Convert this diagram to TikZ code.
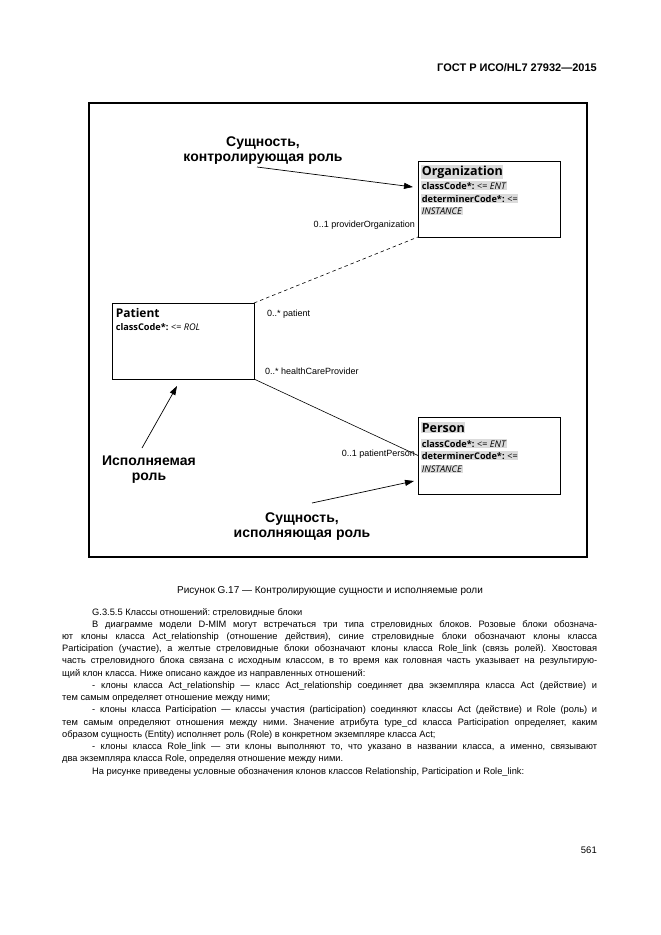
\documentclass[tikz,border=0pt]{standalone}
\usepackage{fontspec}
\setmainfont{Liberation Sans}
\newfontfamily\boxfont{Open Sans}
\usetikzlibrary{arrows.meta}
\frenchspacing
\begin{document}
\begin{tikzpicture}[x=1pt,y=-1pt,
  bodyline/.style={anchor=base west, inner sep=0pt, font=\fontsize{9.3}{11}\selectfont},
  bodycenter/.style={anchor=base, inner sep=0pt, font=\fontsize{9.3}{11}\selectfont},
  lbl/.style={align=center, inner sep=0pt, font=\bfseries\fontsize{14}{15}\selectfont},
  mult/.style={inner sep=0pt, font=\fontsize{9}{10}\selectfont},
  umlbox/.style={draw, line width=0.8pt, outer sep=0pt, anchor=north west},
  boxtitle/.style={anchor=base west, inner sep=0.6pt, font=\boxfont\bfseries\fontsize{12.5}{14}\selectfont},
  boxattr/.style={anchor=base west, inner sep=0.6pt, font=\boxfont\fontsize{9.2}{10}\selectfont},
  halo/.style={fill=gray!28},
  ptr/.style={-{Triangle[length=9pt,width=6pt]}, line width=0.7pt},
  frame/.style={draw, line width=2.6pt}
]
\useasboundingbox (0,0) rectangle (661,935);
\fill[white] (0,0) rectangle (661,935);

% header
\node[anchor=base east, inner sep=0pt, font=\bfseries\fontsize{11}{12}\selectfont] (hdr) at (597,71) {ГОСТ Р ИСО/HL7 27932—2015};

% frame
\node[frame, outer sep=0pt, minimum width=498pt, minimum height=454pt, anchor=north west] (frm) at (89,103) {};

% boxes
\node[umlbox, minimum width=142pt, minimum height=76pt] (org) at (418,161) {};
\node[umlbox, minimum width=142pt, minimum height=76pt] (pat) at (112,303) {};
\node[umlbox, minimum width=142pt, minimum height=77pt] (per) at (418,417) {};

% box texts
\node[boxtitle, halo] (orgT) at (421,175) {Organization};
\node[boxattr, halo] (orgA) at (421,189) {\textbf{classCode*:} \textit{<= ENT}};
\node[boxattr, halo] (orgB) at (421,202) {\textbf{determinerCode*:} \textit{<=}};
\node[boxattr, halo] (orgC) at (421,214) {\textit{INSTANCE}};

\node[boxtitle, font=\boxfont\bfseries\fontsize{12}{13}\selectfont] (patT) at (115,317) {Patient};
\node[boxattr] (patA) at (115,330) {\textbf{classCode*:} \textit{<= ROL}};

\node[boxtitle, halo] (perT) at (421,432) {Person};
\node[boxattr, halo] (perA) at (421,447) {\textbf{classCode*:} \textit{<= ENT}};
\node[boxattr, halo] (perB) at (421,459) {\textbf{determinerCode*:} \textit{<=}};
\node[boxattr, halo] (perC) at (421,472) {\textit{INSTANCE}};

% associations
\draw[dash pattern=on 3.5pt off 3pt, line width=0.6pt] (pat.north east) -- (org.south west);
\draw[line width=0.6pt] (pat.south east) -- (per.west);

% multiplicities
\node[mult, anchor=east] (m1) at (415,225) {0..1 providerOrganization};
\node[mult, anchor=west] (m2) at (267,314) {0..* patient};
\node[mult, anchor=west] (m3) at (265,371) {0..* healthCareProvider};
\node[mult, anchor=east] (m4) at (415,454) {0..1 patientPerson};

% labels
\node[lbl] (lab1) at (263,150.5) {Сущность,\\контролирующая роль};
\node[lbl] (lab2) at (149,469.5) {Исполняемая\\роль};
\node[lbl] (lab3) at (302,527) {Сущность,\\исполняющая роль};

\coordinate (a1s) at (257,167);
\coordinate (a1e) at (413,187);
\coordinate (a2s) at (142,448);
\coordinate (a2e) at (177,386);
\coordinate (a3s) at (312,503);
\coordinate (a3e) at (414,481);
\draw[ptr] (a1s) -- (a1e);
\draw[ptr] (a2s) -- (a2e);
\draw[ptr] (a3s) -- (a3e);

% caption
\node[bodycenter, font=\fontsize{10}{11}\selectfont] (cap) at (330,593) {Рисунок G.17 — Контролирующие сущности и исполняемые роли};

% body text
\node[bodyline] (t1) at (92,615) {G.3.5.5 Классы отношений: стреловидные блоки};
\node[bodyline] (t2) at (92,627.2) {\makebox[505pt][s]{В диаграмме модели D-MIM могут встречаться три типа стреловидных блоков. Розовые блоки обознача-}};
\node[bodyline] (t3) at (62,639.5) {\makebox[535pt][s]{ют клоны класса Act\_relationship (отношение действия), синие стреловидные блоки обозначают клоны класса}};
\node[bodyline] (t4) at (62,651.7) {\makebox[535pt][s]{Participation (участие), а желтые стреловидные блоки обозначают клоны класса Role\_link (связь ролей). Хвостовая}};
\node[bodyline] (t5) at (62,663.9) {\makebox[535pt][s]{часть стреловидного блока связана с исходным классом, в то время как головная часть указывает на результирую-}};
\node[bodyline] (t6) at (62,676.2) {щий клон класса. Ниже описано каждое из направленных отношений:};
\node[bodyline] (t7) at (92,688.4) {\makebox[505pt][s]{- клоны класса Act\_relationship — класс Act\_relationship соединяет два экземпляра класса Act (действие) и}};
\node[bodyline] (t8) at (62,700.6) {тем самым определяет отношение между ними;};
\node[bodyline] (t9) at (92,712.8) {\makebox[505pt][s]{- клоны класса Participation — классы участия (participation) соединяют классы Act (действие) и Role (роль) и}};
\node[bodyline] (t10) at (62,725.1) {\makebox[535pt][s]{тем самым определяют отношения между ними. Значение атрибута type\_cd класса Participation определяет, каким}};
\node[bodyline] (t11) at (62,737.3) {образом сущность (Entity) исполняет роль (Role) в конкретном экземпляре класса Act;};
\node[bodyline] (t12) at (92,749.5) {\makebox[505pt][s]{- клоны класса Role\_link — эти клоны выполняют то, что указано в названии класса, а именно, связывают}};
\node[bodyline] (t13) at (62,761.8) {два экземпляра класса Role, определяя отношение между ними.};
\node[bodyline] (t14) at (92,774) {На рисунке приведены условные обозначения клонов классов Relationship, Participation и Role\_link:};

% page number
\node[anchor=base east, inner sep=0pt, font=\fontsize{9.5}{11}\selectfont] (pg) at (597,853) {561};
\end{tikzpicture}
\end{document}
